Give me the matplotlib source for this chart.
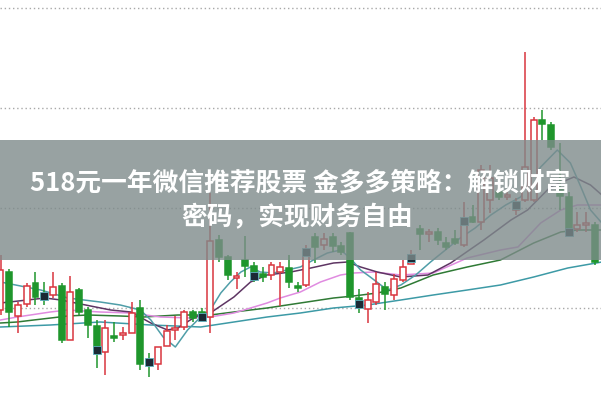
import numpy as np
import matplotlib
matplotlib.use("Agg")
import matplotlib.pyplot as plt
from matplotlib.patches import Rectangle

# daily candles (price units, gridlines at 10 / 11 / 12 / 13)
opens = [9.98, 10.36, 9.92, 10.04, 10.25, 10.14, 10.13, 10.22, 9.68, 10.18,
         9.98, 9.82, 9.56, 9.72, 9.73, 9.75, 10.00, 9.48, 9.44, 9.62,
         9.78, 9.81, 9.96, 9.96, 9.91, 10.68, 10.51, 10.30, 10.48, 10.42,
         10.34, 10.33, 10.36, 10.40, 10.22, 10.23, 10.71, 10.63, 10.71, 10.62,
         10.75, 10.10, 9.99, 10.06, 10.21, 10.13, 10.28, 10.44, 10.79, 10.74,
         10.76, 10.65, 10.69, 10.63, 10.91, 10.86, 11.08, 11.16, 11.11, 10.98,
         11.08, 11.08, 11.88, 11.83, 11.20, 11.11, 10.79, 10.83, 10.83]
closes = [10.38, 9.96, 10.03, 10.22, 10.11, 10.12, 10.21, 9.68, 10.16, 9.96,
          9.83, 9.58, 9.80, 9.70, 9.75, 9.95, 9.44, 9.46, 9.61, 9.77,
          9.80, 9.96, 9.90, 9.91, 10.67, 10.51, 10.33, 10.32, 10.42, 10.32,
          10.31, 10.43, 10.41, 10.26, 10.20, 10.56, 10.61, 10.69, 10.62, 10.56,
          10.11, 10.04, 10.08, 10.24, 10.14, 10.29, 10.41, 10.50, 10.74, 10.76,
          10.68, 10.61, 10.65, 10.87, 10.86, 11.38, 11.30, 11.11, 11.13, 11.03,
          11.41, 11.88, 11.84, 11.61, 11.12, 10.76, 10.83, 10.85, 10.46]
highs = [10.53, 10.39, 10.06, 10.25, 10.36, 10.26, 10.36, 10.25, 10.32, 10.20,
         10.01, 9.88, 9.88, 9.86, 9.81, 10.06, 10.08, 9.55, 9.61, 9.83,
         9.92, 9.98, 9.98, 10.00, 11.15, 10.73, 10.53, 10.36, 10.72, 10.46,
         10.41, 10.46, 10.46, 10.53, 10.26, 10.63, 10.75, 10.75, 10.75, 10.66,
         10.76, 10.19, 10.16, 10.36, 10.26, 10.34, 10.48, 10.58, 10.83, 10.79,
         10.80, 10.71, 10.78, 11.06, 11.03, 11.43, 11.43, 11.21, 11.16, 11.10,
         12.56, 11.91, 11.98, 11.86, 11.65, 11.16, 10.96, 10.96, 10.86]
lows = [9.93, 9.81, 9.75, 10.01, 10.03, 10.03, 10.10, 9.65, 9.68, 9.93,
        9.70, 9.40, 9.33, 9.66, 9.68, 9.75, 9.38, 9.31, 9.38, 9.62,
        9.68, 9.78, 9.86, 9.88, 9.75, 10.46, 10.28, 10.19, 10.31, 10.26,
        10.26, 10.28, 10.02, 10.20, 10.16, 10.21, 10.45, 10.58, 10.56, 10.53,
        10.08, 9.95, 9.85, 10.03, 9.98, 10.08, 10.26, 10.44, 10.58, 10.66,
        10.63, 10.58, 10.63, 10.61, 10.85, 10.78, 10.95, 11.08, 11.08, 10.93,
        11.06, 11.06, 11.68, 11.58, 10.98, 10.73, 10.76, 10.76, 10.43]

# bars carrying the dark period marker
mark_idx = [5, 11, 17, 23, 29, 35, 41, 47, 53, 59, 65]

# moving average lines (bar position, price)
ma_fast_x = [0, 4.6, 7.7, 11.4, 13.7, 16.0, 17.2, 18.6, 20.0, 21.4, 22.9, 24.0, 25.2,
             26.3, 27.5, 28.6, 29.7, 31.2, 32.8, 34.3, 35.8, 37.4, 38.9, 40.0, 41.2,
             42.3, 43.5, 44.3, 45.8, 47.5, 49.2, 50.9, 52.6, 54.3, 56.1, 57.8, 59.5,
             61.8, 63.7, 65.2, 66.4, 67.5, 68.8]
ma_fast_y = [10.26, 10.18, 10.10, 10.06, 10.03, 9.98, 9.88, 9.71, 9.61, 9.78, 9.91, 9.98, 10.15,
             10.26, 10.36, 10.41, 10.36, 10.35, 10.38, 10.41, 10.48, 10.55, 10.58, 10.50, 10.38,
             10.31, 10.23, 10.18, 10.23, 10.33, 10.46, 10.58, 10.70, 10.80, 10.93, 11.03, 11.11,
             11.41, 11.58, 11.45, 11.21, 10.98, 10.85]
ma10_x = [0, 5.1, 6.9, 10.3, 12.6, 14.9, 17.2, 19.1, 20.3, 21.7, 23.2, 24.0, 26.7, 28.6,
          30.5, 33.2, 35.5, 38.1, 39.7, 41.2, 43.1, 45.8, 48.9, 51.5, 55.3, 58.4, 60.3,
          62.9, 65.6, 67.5, 68.8]
ma10_y = [10.05, 10.10, 10.08, 10.02, 9.98, 9.96, 9.85, 9.78, 9.80, 9.88, 9.95, 9.95, 10.11, 10.26,
          10.33, 10.36, 10.40, 10.45, 10.46, 10.41, 10.36, 10.31, 10.33, 10.45, 10.68, 10.88, 10.98,
          11.21, 11.31, 11.23, 11.13]
ma20_x = [0, 1.9, 5.7, 7.7, 11.4, 14.9, 18.3, 21.7, 24.0, 26.7, 30.5, 32.0, 34.3, 36.6,
          38.9, 40.4, 42.7, 45.8, 49.5, 53.4, 57.2, 59.2, 61.8, 64.1, 66.0, 68.8]
ma20_y = [9.88, 9.91, 9.96, 9.98, 9.96, 9.95, 9.91, 9.90, 9.91, 9.95, 10.05, 10.10, 10.16, 10.26,
          10.33, 10.35, 10.36, 10.33, 10.35, 10.50, 10.58, 10.61, 10.85, 10.98, 11.03, 11.03]
ma30_x = [0, 1.9, 3.8, 7.7, 10.0, 13.7, 16.4, 20.3, 24.0, 26.7, 30.5, 34.3, 38.1, 40.4,
          43.1, 45.8, 49.5, 53.4, 57.2, 61.0, 64.1, 66.0, 68.8]
ma30_y = [9.85, 9.86, 9.88, 9.92, 9.93, 9.92, 9.91, 9.93, 9.93, 9.96, 10.00, 10.05, 10.10, 10.12,
          10.15, 10.20, 10.33, 10.41, 10.48, 10.65, 10.76, 10.78, 10.78]
ma60_x = [0, 5.7, 11.4, 17.2, 22.9, 26.7, 30.5, 34.3, 38.1, 42.0, 45.8, 49.5, 53.4, 57.2,
          61.0, 64.9, 68.8]
ma60_y = [9.81, 9.83, 9.86, 9.83, 9.81, 9.86, 9.91, 9.95, 10.00, 10.03, 10.08, 10.13, 10.18, 10.23,
          10.31, 10.40, 10.46]

banner_line1 = "518元一年微信推荐股票 金多多策略：解锁财富"
banner_line2 = "密码，实现财务自由"

up_col = "#d9363e"
down_col = "#1f962c"

fig = plt.figure(figsize=(6.01, 4.0), dpi=100)
ax = fig.add_axes([0, 0, 1, 1])
ax.set_xlim(-0.06, 68.7)
ax.set_ylim(9.08, 13.08)
ax.axis("off")

for lvl in [10, 11, 12, 13]:
    ax.axhline(lvl, color="#a8a8a8", lw=1.0, ls=(0, (1, 2)), zorder=1)

ax.plot(ma60_x, ma60_y, color="#3d9aa6", lw=1.1, zorder=2)
ax.plot(ma30_x, ma30_y, color="#2f7a35", lw=1.1, zorder=2)
ax.plot(ma20_x, ma20_y, color="#e08be0", lw=1.1, zorder=2)
ax.plot(ma10_x, ma10_y, color="#5e3563", lw=1.1, zorder=2)
ax.plot(ma_fast_x, ma_fast_y, color="#4f9ea8", lw=1.1, zorder=2)

w = 0.68
for i in range(len(opens)):
    o, c, h, l = opens[i], closes[i], highs[i], lows[i]
    col = up_col if c >= o else down_col
    top = max(o, c)
    bot = min(o, c)
    ax.vlines(i, top, h, color=col, lw=1.1, zorder=3)
    ax.vlines(i, l, bot, color=col, lw=1.1, zorder=3)
    if c >= o:
        ax.add_patch(Rectangle((i - w / 2, bot), w, max(top - bot, 0.015),
                               facecolor="white", edgecolor=col, lw=1.1, zorder=4))
    else:
        ax.add_patch(Rectangle((i - w / 2, bot), w, max(top - bot, 0.015),
                               facecolor=col, edgecolor=col, lw=1.1, zorder=4))

ax.scatter(mark_idx, [closes[i] for i in mark_idx], marker="s", s=30,
           color="#1b2a35", edgecolors="#5fb3c0", linewidths=0.6, zorder=5)

fig.patches.append(Rectangle((0, 0.35), 1, 0.30, transform=fig.transFigure,
                             facecolor="#7e8b8b", alpha=0.8, edgecolor="none", zorder=10))

plt.rcParams['font.family'] = ['Noto Sans CJK SC', 'DejaVu Sans']
fig.text(0.5, 0.5425, banner_line1, ha="center", va="center", color="white",
         fontsize=18.5, fontweight="bold", zorder=11)
fig.text(0.495, 0.455, banner_line2, ha="center", va="center", color="white",
         fontsize=18.5, fontweight="bold", zorder=11)

fig.savefig("out.png", dpi=100)
